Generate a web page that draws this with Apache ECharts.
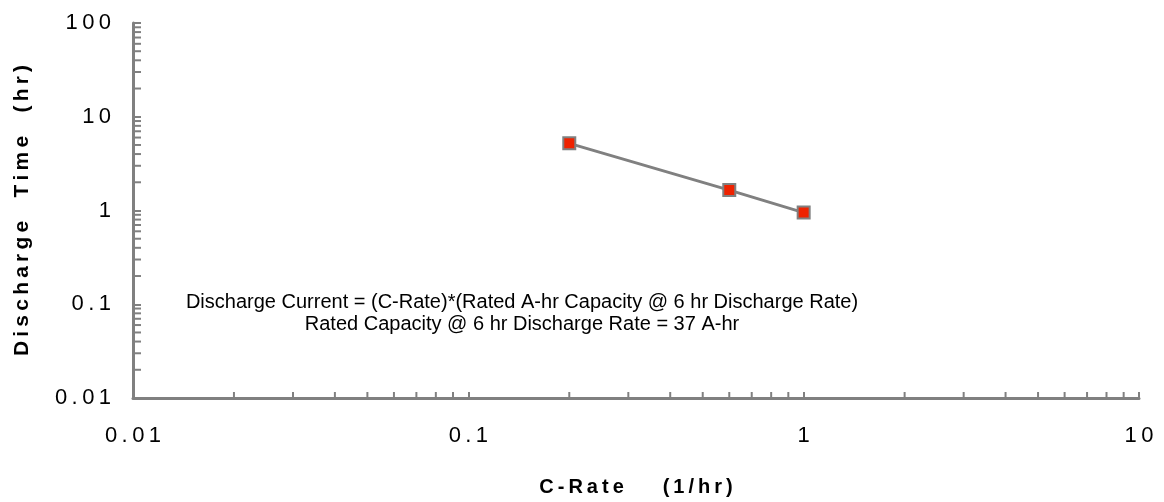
<!DOCTYPE html>
<html>
<head>
<meta charset="utf-8">
<script src="https://cdn.jsdelivr.net/npm/echarts@6/dist/echarts.min.js"></script>
<style>
html,body{margin:0;padding:0;background:#fff;}
#chart{width:1164px;height:502px;}
</style>
</head>
<body>
<div id="chart"></div>
<script>
// Data
const cRate = [0.2, 0.6, 1];
const dischargeTime = [5.2, 1.65, 0.95];
const xTickLabels = ['0.01', '0.1', '1', '10'];
const yTickLabels = ['0.01', '0.1', '1', '10', '100'];
const xMinorTicks = [0.02,0.03,0.04,0.05,0.06,0.07,0.08,0.09,0.2,0.3,0.4,0.5,0.6,0.7,0.8,0.9,2,3,4,5,6,7,8,9];
const yMinorTicks = [0.02,0.03,0.04,0.05,0.06,0.07,0.08,0.09,0.2,0.3,0.4,0.5,0.6,0.7,0.8,0.9,2,3,4,5,6,7,8,9,20,30,40,50,60,70,80,90];
const noteLines = ['Discharge Current = (C-Rate)*(Rated A-hr Capacity @ 6 hr Discharge Rate)', 'Rated Capacity @ 6 hr Discharge Rate = 37 A-hr'];
const xTitleWords = ['C-Rate', '(1/hr)'];
const yTitleWords = ['Discharge', 'Time', '(hr)'];

const GRAY = '#808080';
const TS = '\u2009';
const spaced = s => s.split('').join(TS);
const spacedWords = (words, gap) => words.map(spaced).join(gap);
function fmt(labels, min) {
  return v => {
    const i = Math.round(Math.log10(v) - Math.log10(min));
    return spaced(labels[i] !== undefined ? labels[i] : String(v));
  };
}

const chart = echarts.init(document.getElementById('chart'), null, {renderer: 'canvas'});
chart.setOption({
  animation: false,
  backgroundColor: '#fff',
  grid: {left: 133, right: 25, top: 23, bottom: 104, containLabel: false},
  xAxis: {
    type: 'log', logBase: 10, min: 0.01, max: 10,
    name: spacedWords(xTitleWords, '       '), nameLocation: 'middle', nameGap: 79,
    nameTextStyle: {fontFamily: 'Liberation Sans', fontWeight: 'bold', fontSize: 20, color: '#000'},
    axisLine: {lineStyle: {color: GRAY, width: 3}},
    axisTick: {inside: true, length: 6, lineStyle: {color: GRAY, width: 2}},
    axisLabel: {formatter: fmt(xTickLabels, 0.01), fontFamily: 'Liberation Sans', fontSize: 22, color: '#000', margin: 27, showMaxLabel: true, showMinLabel: true},
    splitLine: {show: false}
  },
  yAxis: {
    type: 'log', logBase: 10, min: 0.01, max: 100,
    name: spacedWords(yTitleWords, '    '), nameLocation: 'middle', nameGap: 100, nameRotate: 90,
    nameTextStyle: {fontFamily: 'Liberation Sans', fontWeight: 'bold', fontSize: 21, color: '#000'},
    axisLine: {lineStyle: {color: GRAY, width: 3}},
    axisTick: {inside: true, length: 8, lineStyle: {color: GRAY, width: 2}},
    axisLabel: {formatter: fmt(yTickLabels, 0.01), fontFamily: 'Liberation Sans', fontSize: 22, color: '#000', margin: 22},
    splitLine: {show: false}
  },
  series: [
    {
      type: 'line',
      data: cRate.map((x, i) => [x, dischargeTime[i]]),
      symbol: 'rect', symbolSize: 12,
      lineStyle: {color: GRAY, width: 3},
      itemStyle: {color: '#EE2200', borderColor: GRAY, borderWidth: 2},
      z: 5
    },
    {
      type: 'custom', silent: true, clip: false,
      data: xMinorTicks.map(v => [v, 0.01]),
      renderItem: (params, api) => {
        const p = api.coord([api.value(0), api.value(1)]);
        return {type: 'line', shape: {x1: p[0], y1: p[1], x2: p[0], y2: p[1] - 6}, style: {stroke: GRAY, lineWidth: 2}};
      }
    },
    {
      type: 'custom', silent: true, clip: false,
      data: yMinorTicks.map(v => [0.01, v]),
      renderItem: (params, api) => {
        const p = api.coord([api.value(0), api.value(1)]);
        return {type: 'line', shape: {x1: p[0], y1: p[1], x2: p[0] + 8, y2: p[1]}, style: {stroke: GRAY, lineWidth: 2}};
      }
    }
  ],
  graphic: [
    {type: 'text', style: {text: noteLines[0], x: 522, y: 302, align: 'center', verticalAlign: 'middle', font: '20px "Liberation Sans"', fill: '#000'}},
    {type: 'text', style: {text: noteLines[1], x: 522, y: 324, align: 'center', verticalAlign: 'middle', font: '20px "Liberation Sans"', fill: '#000'}}
  ]
});
</script>
</body>
</html>
